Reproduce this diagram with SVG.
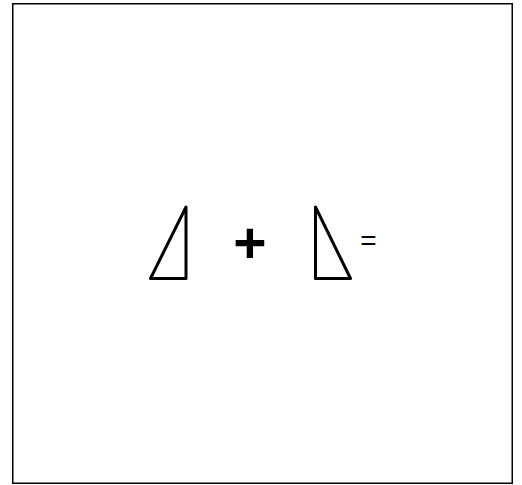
<svg xmlns="http://www.w3.org/2000/svg" width="522" height="485" viewBox="0 0 522 485">
<style>
.tri{fill:none;stroke:#000;stroke-width:3;stroke-linejoin:round}
.t{font-family:"Liberation Sans",Arial,sans-serif;fill:#000}
</style>
<rect width="522" height="485" fill="#fff"/>
<rect x="12.75" y="3.75" width="499.5" height="479.5" fill="none" stroke="#000" stroke-width="1.5"/>
<g id="tri1"><path class="tri" d="M150.5,278.5 L186,207 L186,278.5 Z"/></g>
<g id="plus"><text class="t" x="250" y="262.5" font-size="57" font-weight="bold" text-anchor="middle">+</text></g>
<g id="tri2"><path class="tri" d="M315.5,207 L315.5,278.5 L350.5,278.5 Z"/></g>
<g id="eq"><text class="t" x="368.5" y="250" font-size="28" text-anchor="middle">=</text></g>
<g id="connectors"></g>
</svg>
